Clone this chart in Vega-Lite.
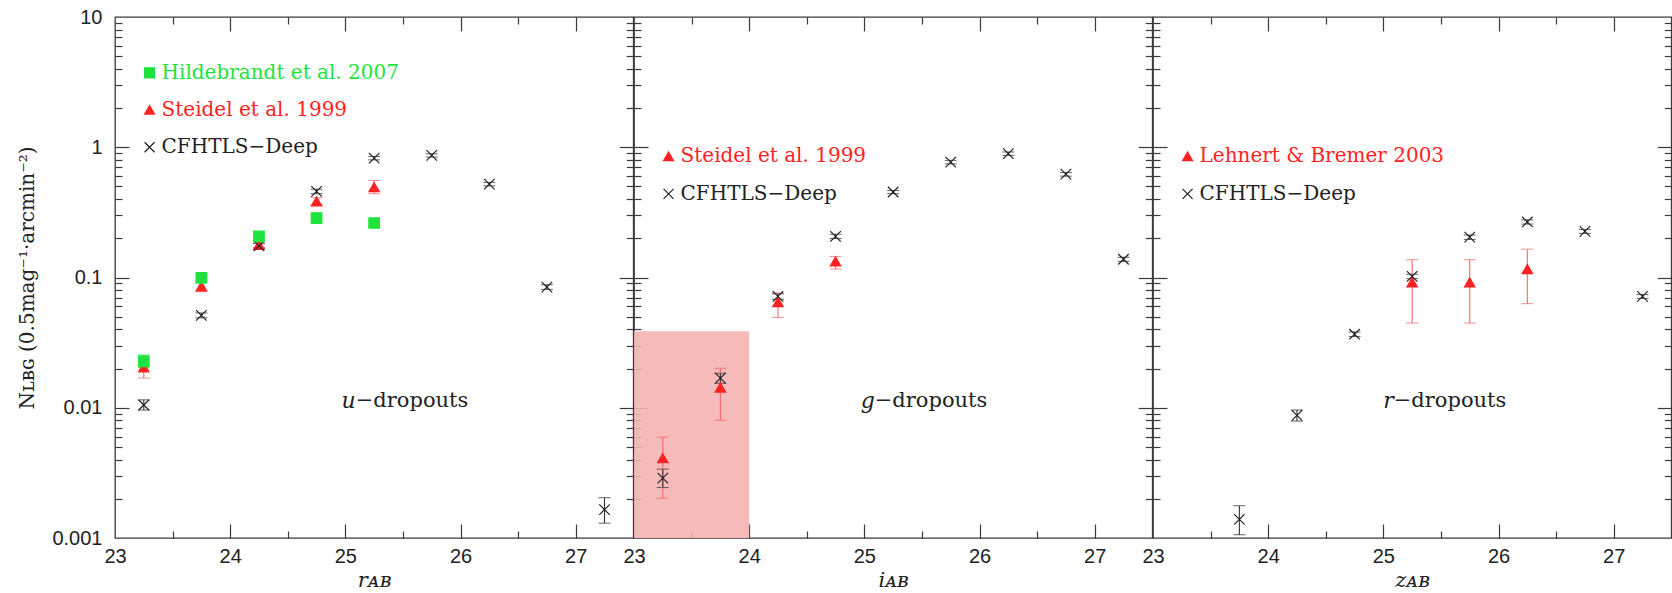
{
  "$schema": "https://vega.github.io/schema/vega-lite/v6.json",
  "autosize": {"type": "pad"},
  "padding": {"left": 17, "top": 6, "right": 0, "bottom": 0},
  "spacing": 0,
  "bounds": "flush",
  "background": "white",
  "datasets": {
    "pts": [
      {"panel": "u", "series": "Steidel", "x": 23.25, "y": 0.0204, "lo": 0.0169, "hi": 0.0242},
      {"panel": "u", "series": "Steidel", "x": 23.75, "y": 0.0855, "lo": 0.078, "hi": 0.093},
      {"panel": "u", "series": "Steidel", "x": 24.25, "y": 0.178, "lo": 0.170, "hi": 0.186},
      {"panel": "u", "series": "Steidel", "x": 24.75, "y": 0.384, "lo": 0.36, "hi": 0.41},
      {"panel": "u", "series": "Steidel", "x": 25.25, "y": 0.494, "lo": 0.44, "hi": 0.556},
      {"panel": "u", "series": "CFHTLS", "x": 23.25, "y": 0.0105, "lo": 0.0096, "hi": 0.0115},
      {"panel": "u", "series": "CFHTLS", "x": 23.75, "y": 0.0512, "lo": 0.049, "hi": 0.0535},
      {"panel": "u", "series": "CFHTLS", "x": 24.25, "y": 0.175, "lo": 0.168, "hi": 0.182},
      {"panel": "u", "series": "CFHTLS", "x": 24.75, "y": 0.458, "lo": 0.44, "hi": 0.476},
      {"panel": "u", "series": "CFHTLS", "x": 25.25, "y": 0.826, "lo": 0.80, "hi": 0.85},
      {"panel": "u", "series": "CFHTLS", "x": 25.75, "y": 0.867, "lo": 0.84, "hi": 0.89},
      {"panel": "u", "series": "CFHTLS", "x": 26.25, "y": 0.521, "lo": 0.505, "hi": 0.537},
      {"panel": "u", "series": "CFHTLS", "x": 26.75, "y": 0.0844, "lo": 0.081, "hi": 0.088},
      {"panel": "u", "series": "CFHTLS", "x": 27.25, "y": 0.00165, "lo": 0.0013, "hi": 0.00204},
      {"panel": "u", "series": "Hildebrandt", "x": 23.25, "y": 0.0227, "lo": 0.0203, "hi": 0.0254},
      {"panel": "u", "series": "Hildebrandt", "x": 23.75, "y": 0.0995, "lo": 0.094, "hi": 0.105},
      {"panel": "u", "series": "Hildebrandt", "x": 24.25, "y": 0.207, "lo": 0.197, "hi": 0.217},
      {"panel": "u", "series": "Hildebrandt", "x": 24.75, "y": 0.286, "lo": 0.275, "hi": 0.297},
      {"panel": "u", "series": "Hildebrandt", "x": 25.25, "y": 0.262, "lo": 0.252, "hi": 0.272},
      {"panel": "g", "series": "Steidel", "x": 23.25, "y": 0.0041, "lo": 0.00202, "hi": 0.00594},
      {"panel": "g", "series": "Steidel", "x": 23.75, "y": 0.0143, "lo": 0.0080, "hi": 0.0201},
      {"panel": "g", "series": "Steidel", "x": 24.25, "y": 0.0648, "lo": 0.0494, "hi": 0.076},
      {"panel": "g", "series": "Steidel", "x": 24.75, "y": 0.133, "lo": 0.116, "hi": 0.145},
      {"panel": "g", "series": "CFHTLS", "x": 23.25, "y": 0.00288, "lo": 0.00244, "hi": 0.00338},
      {"panel": "g", "series": "CFHTLS", "x": 23.75, "y": 0.0169, "lo": 0.0154, "hi": 0.0184},
      {"panel": "g", "series": "CFHTLS", "x": 24.25, "y": 0.0716, "lo": 0.068, "hi": 0.075},
      {"panel": "g", "series": "CFHTLS", "x": 24.75, "y": 0.207, "lo": 0.199, "hi": 0.215},
      {"panel": "g", "series": "CFHTLS", "x": 25.25, "y": 0.453, "lo": 0.44, "hi": 0.466},
      {"panel": "g", "series": "CFHTLS", "x": 25.75, "y": 0.769, "lo": 0.745, "hi": 0.793},
      {"panel": "g", "series": "CFHTLS", "x": 26.25, "y": 0.893, "lo": 0.865, "hi": 0.92},
      {"panel": "g", "series": "CFHTLS", "x": 26.75, "y": 0.622, "lo": 0.60, "hi": 0.64},
      {"panel": "g", "series": "CFHTLS", "x": 27.25, "y": 0.138, "lo": 0.133, "hi": 0.143},
      {"panel": "r", "series": "Lehnert", "x": 25.25, "y": 0.0917, "lo": 0.0447, "hi": 0.137},
      {"panel": "r", "series": "Lehnert", "x": 25.75, "y": 0.0917, "lo": 0.0447, "hi": 0.137},
      {"panel": "r", "series": "Lehnert", "x": 26.25, "y": 0.116, "lo": 0.063, "hi": 0.165},
      {"panel": "r", "series": "CFHTLS", "x": 23.75, "y": 0.00139, "lo": 0.00106, "hi": 0.00177},
      {"panel": "r", "series": "CFHTLS", "x": 24.25, "y": 0.00873, "lo": 0.0079, "hi": 0.0096},
      {"panel": "r", "series": "CFHTLS", "x": 24.75, "y": 0.0367, "lo": 0.0352, "hi": 0.0382},
      {"panel": "r", "series": "CFHTLS", "x": 25.25, "y": 0.102, "lo": 0.098, "hi": 0.106},
      {"panel": "r", "series": "CFHTLS", "x": 25.75, "y": 0.204, "lo": 0.196, "hi": 0.212},
      {"panel": "r", "series": "CFHTLS", "x": 26.25, "y": 0.267, "lo": 0.257, "hi": 0.277},
      {"panel": "r", "series": "CFHTLS", "x": 26.75, "y": 0.226, "lo": 0.218, "hi": 0.234},
      {"panel": "r", "series": "CFHTLS", "x": 27.25, "y": 0.0716, "lo": 0.069, "hi": 0.074}
    ],
    "leg": [
      {"panel": "u", "series": "Hildebrandt", "label": "Hildebrandt et al. 2007", "x": 23.3, "y": 3.72},
      {"panel": "u", "series": "Steidel", "label": "Steidel et al. 1999", "x": 23.3, "y": 1.94},
      {"panel": "u", "series": "CFHTLS", "label": "CFHTLS−Deep", "x": 23.3, "y": 1.0},
      {"panel": "g", "series": "Steidel", "label": "Steidel et al. 1999", "x": 23.3, "y": 0.851},
      {"panel": "g", "series": "CFHTLS", "label": "CFHTLS−Deep", "x": 23.3, "y": 0.438},
      {"panel": "r", "series": "Lehnert", "label": "Lehnert & Bremer 2003", "x": 23.3, "y": 0.851},
      {"panel": "r", "series": "CFHTLS", "label": "CFHTLS−Deep", "x": 23.3, "y": 0.438}
    ],
    "ann": [
      {"panel": "u", "letter": "u", "rest": "−dropouts", "x": 25.09, "y": 0.0112},
      {"panel": "g", "letter": "g", "rest": "−dropouts", "x": 25.09, "y": 0.0112},
      {"panel": "r", "letter": "r", "rest": "−dropouts", "x": 25.09, "y": 0.0112}
    ],
    "shade": [
      {"panel": "g", "x": 23.0, "x2": 24.0, "y": 0.001, "y2": 0.0386}
    ]
  },
  "config": {
    "view": {"stroke": "#3a3a3a", "strokeWidth": 1.3},
    "axis": {
      "grid": false, "domain": false,
      "labelFont": "Liberation Sans", "labelFontSize": 20, "labelColor": "#222",
      "labelFlush": false, "labelOverlap": false, "labelBound": false,
      "tickColor": "#3a3a3a", "tickWidth": 1.2,
      "titleFont": "DejaVu Serif", "titleFontWeight": "normal", "titleColor": "#222",
      "zindex": 1
    }
  },
  "hconcat": [
    {
      "width": 518.3, "height": 521,
      "resolve": {"axis": {"x": "independent", "y": "independent"}},
      "layer": [
        {"data": {"name": "pts"}, "mark": {"type": "point", "opacity": 0},
         "encoding": {
           "x": {"field": "x", "type": "quantitative", "scale": {"domain": [23, 27.5], "nice": false, "zero": false},
                 "axis": {"orient": "bottom", "values": [23, 24, 25, 26, 27], "ticks": false, "labelPadding": 8, "title": "rᴀʙ", "titleFontStyle": "italic", "titleFontSize": 21, "titlePadding": 3}},
           "y": {"field": "y", "type": "quantitative", "scale": {"type": "log", "domain": [0.001, 10], "nice": false},
                 "axis": {"orient": "left", "values": [0.001, 0.01, 0.1, 1, 10], "format": "~g", "ticks": false, "labelPadding": 13, "title": "Nʟʙɢ (0.5mag⁻¹·arcmin⁻²)", "titleFontSize": 20, "titlePadding": 14}}
         }},
        {"data": {"name": "pts"}, "mark": {"type": "point", "opacity": 0},
         "encoding": {
           "x": {"field": "x", "type": "quantitative", "scale": {"domain": [23, 27.5], "nice": false, "zero": false},
                 "axis": {"orient": "bottom", "offset": -14, "tickSize": 14, "values": [24, 25, 26, 27], "labels": false, "title": null}},
           "y": {"field": "y", "type": "quantitative", "scale": {"type": "log", "domain": [0.001, 10], "nice": false},
                 "axis": {"orient": "left", "offset": -14, "tickSize": 14, "values": [0.01, 0.1, 1], "labels": false, "title": null}}
         }},
        {"data": {"name": "pts"}, "mark": {"type": "point", "opacity": 0},
         "encoding": {
           "x": {"field": "x", "type": "quantitative", "scale": {"domain": [23, 27.5], "nice": false, "zero": false},
                 "axis": {"orient": "bottom", "offset": -7, "tickSize": 7, "values": [23.5, 24.5, 25.5, 26.5], "labels": false, "title": null}},
           "y": {"field": "y", "type": "quantitative", "scale": {"type": "log", "domain": [0.001, 10], "nice": false},
                 "axis": {"orient": "left", "offset": -7, "tickSize": 7, "values": [0.002, 0.003, 0.004, 0.005, 0.006, 0.007, 0.008, 0.009, 0.02, 0.03, 0.04, 0.05, 0.06, 0.07, 0.08, 0.09, 0.2, 0.3, 0.4, 0.5, 0.6, 0.7, 0.8, 0.9, 2, 3, 4, 5, 6, 7, 8, 9], "labels": false, "title": null}}
         }},
        {"data": {"name": "pts"}, "mark": {"type": "point", "opacity": 0},
         "encoding": {
           "x": {"field": "x", "type": "quantitative", "scale": {"domain": [23, 27.5], "nice": false, "zero": false},
                 "axis": {"orient": "top", "offset": -14, "tickSize": 14, "values": [24, 25, 26, 27], "labels": false, "title": null}},
           "y": {"field": "y", "type": "quantitative", "scale": {"type": "log", "domain": [0.001, 10], "nice": false},
                 "axis": {"orient": "right", "offset": -14, "tickSize": 14, "values": [0.01, 0.1, 1], "labels": false, "title": null}}
         }},
        {"data": {"name": "pts"}, "mark": {"type": "point", "opacity": 0},
         "encoding": {
           "x": {"field": "x", "type": "quantitative", "scale": {"domain": [23, 27.5], "nice": false, "zero": false},
                 "axis": {"orient": "top", "offset": -7, "tickSize": 7, "values": [23.5, 24.5, 25.5, 26.5], "labels": false, "title": null}},
           "y": {"field": "y", "type": "quantitative", "scale": {"type": "log", "domain": [0.001, 10], "nice": false},
                 "axis": {"orient": "right", "offset": -7, "tickSize": 7, "values": [0.002, 0.003, 0.004, 0.005, 0.006, 0.007, 0.008, 0.009, 0.02, 0.03, 0.04, 0.05, 0.06, 0.07, 0.08, 0.09, 0.2, 0.3, 0.4, 0.5, 0.6, 0.7, 0.8, 0.9, 2, 3, 4, 5, 6, 7, 8, 9], "labels": false, "title": null}}
         }},
        {"data": {"name": "pts"}, "transform": [{"filter": "datum.panel === 'u'"}],
         "mark": {"type": "errorbar", "ticks": {"size": 12, "thickness": 1.1}, "thickness": 1.1},
         "encoding": {
           "x": {"field": "x", "type": "quantitative", "scale": {"domain": [23, 27.5], "nice": false, "zero": false}, "axis": null},
           "y": {"field": "lo", "type": "quantitative", "scale": {"type": "log", "domain": [0.001, 10], "nice": false}, "axis": null},
           "y2": {"field": "hi"},
           "color": {"field": "series", "type": "nominal", "legend": null, "scale": {"domain": ["Hildebrandt", "Steidel", "Lehnert", "CFHTLS"], "range": ["#22dd44", "#f26a6a", "#f26a6a", "#333333"]}}
         }},
        {"data": {"name": "pts"}, "transform": [{"filter": "datum.panel === 'u'"}],
         "mark": {"type": "point", "filled": true, "opacity": 1, "size": 110, "strokeWidth": 1.2},
         "encoding": {
           "x": {"field": "x", "type": "quantitative", "scale": {"domain": [23, 27.5], "nice": false, "zero": false}, "axis": null},
           "y": {"field": "y", "type": "quantitative", "scale": {"type": "log", "domain": [0.001, 10], "nice": false}, "axis": null},
           "fill": {"field": "series", "type": "nominal", "legend": null, "scale": {"domain": ["Hildebrandt", "Steidel", "Lehnert", "CFHTLS"], "range": ["#1ee33c", "#ff2222", "#ff2222", "#222222"]}},
           "stroke": {"field": "series", "type": "nominal", "legend": null, "scale": {"domain": ["Hildebrandt", "Steidel", "Lehnert", "CFHTLS"], "range": ["#1ee33c", "#ff2222", "#ff2222", "#222222"]}},
           "shape": {"field": "series", "type": "nominal", "legend": null, "scale": {"domain": ["Hildebrandt", "Steidel", "Lehnert", "CFHTLS"], "range": ["square", "triangle-up", "triangle-up", "M-1,-1L1,1M-1,1L1,-1"]}}
         }},
        {"data": {"name": "leg"}, "transform": [{"filter": "datum.panel === 'u'"}],
         "mark": {"type": "point", "filled": true, "opacity": 1, "size": 100, "strokeWidth": 1.2},
         "encoding": {
           "x": {"field": "x", "type": "quantitative", "scale": {"domain": [23, 27.5], "nice": false, "zero": false}, "axis": null},
           "y": {"field": "y", "type": "quantitative", "scale": {"type": "log", "domain": [0.001, 10], "nice": false}, "axis": null},
           "fill": {"field": "series", "type": "nominal", "legend": null, "scale": {"domain": ["Hildebrandt", "Steidel", "Lehnert", "CFHTLS"], "range": ["#1ee33c", "#ff2222", "#ff2222", "#222222"]}},
           "stroke": {"field": "series", "type": "nominal", "legend": null, "scale": {"domain": ["Hildebrandt", "Steidel", "Lehnert", "CFHTLS"], "range": ["#1ee33c", "#ff2222", "#ff2222", "#222222"]}},
           "shape": {"field": "series", "type": "nominal", "legend": null, "scale": {"domain": ["Hildebrandt", "Steidel", "Lehnert", "CFHTLS"], "range": ["square", "triangle-up", "triangle-up", "M-1,-1L1,1M-1,1L1,-1"]}}
         }},
        {"data": {"name": "leg"}, "transform": [{"filter": "datum.panel === 'u'"}],
         "mark": {"type": "text", "align": "left", "baseline": "middle", "dx": 12, "font": "DejaVu Serif", "fontSize": 20},
         "encoding": {
           "x": {"field": "x", "type": "quantitative", "scale": {"domain": [23, 27.5], "nice": false, "zero": false}, "axis": null},
           "y": {"field": "y", "type": "quantitative", "scale": {"type": "log", "domain": [0.001, 10], "nice": false}, "axis": null},
           "text": {"field": "label"},
           "fill": {"field": "series", "type": "nominal", "legend": null, "scale": {"domain": ["Hildebrandt", "Steidel", "Lehnert", "CFHTLS"], "range": ["#1ee33c", "#ff2222", "#ff2222", "#222222"]}}
         }},
        {"data": {"name": "ann"}, "transform": [{"filter": "datum.panel === 'u'"}],
         "mark": {"type": "text", "align": "right", "baseline": "middle", "font": "DejaVu Serif", "fontStyle": "italic", "fontSize": 22, "color": "#222"},
         "encoding": {
           "x": {"field": "x", "type": "quantitative", "scale": {"domain": [23, 27.5], "nice": false, "zero": false}, "axis": null},
           "y": {"field": "y", "type": "quantitative", "scale": {"type": "log", "domain": [0.001, 10], "nice": false}, "axis": null},
           "text": {"field": "letter"}
         }},
        {"data": {"name": "ann"}, "transform": [{"filter": "datum.panel === 'u'"}],
         "mark": {"type": "text", "align": "left", "baseline": "middle", "font": "DejaVu Serif", "fontSize": 21, "color": "#222"},
         "encoding": {
           "x": {"field": "x", "type": "quantitative", "scale": {"domain": [23, 27.5], "nice": false, "zero": false}, "axis": null},
           "y": {"field": "y", "type": "quantitative", "scale": {"type": "log", "domain": [0.001, 10], "nice": false}, "axis": null},
           "text": {"field": "rest"}
         }}
      ]
    },
    {
      "width": 518.3, "height": 521,
      "resolve": {"axis": {"x": "independent", "y": "independent"}},
      "layer": [
        {"data": {"name": "shade"},
         "mark": {"type": "rect", "color": "#f6b2b2", "opacity": 0.9},
         "encoding": {
           "x": {"field": "x", "type": "quantitative", "scale": {"domain": [23, 27.5], "nice": false, "zero": false}, "axis": null},
           "x2": {"field": "x2"},
           "y": {"field": "y", "type": "quantitative", "scale": {"type": "log", "domain": [0.001, 10], "nice": false}, "axis": null},
           "y2": {"field": "y2"}
         }},
        {"data": {"name": "pts"}, "mark": {"type": "point", "opacity": 0},
         "encoding": {
           "x": {"field": "x", "type": "quantitative", "scale": {"domain": [23, 27.5], "nice": false, "zero": false},
                 "axis": {"orient": "bottom", "values": [23, 24, 25, 26, 27], "ticks": false, "labelPadding": 8, "title": "iᴀʙ", "titleFontStyle": "italic", "titleFontSize": 21, "titlePadding": 3}},
           "y": {"field": "y", "type": "quantitative", "scale": {"type": "log", "domain": [0.001, 10], "nice": false}, "axis": null}
         }},
        {"data": {"name": "pts"}, "mark": {"type": "point", "opacity": 0},
         "encoding": {
           "x": {"field": "x", "type": "quantitative", "scale": {"domain": [23, 27.5], "nice": false, "zero": false},
                 "axis": {"orient": "bottom", "offset": -14, "tickSize": 14, "values": [24, 25, 26, 27], "labels": false, "title": null}},
           "y": {"field": "y", "type": "quantitative", "scale": {"type": "log", "domain": [0.001, 10], "nice": false},
                 "axis": {"orient": "left", "offset": -14, "tickSize": 14, "values": [0.01, 0.1, 1], "labels": false, "title": null}}
         }},
        {"data": {"name": "pts"}, "mark": {"type": "point", "opacity": 0},
         "encoding": {
           "x": {"field": "x", "type": "quantitative", "scale": {"domain": [23, 27.5], "nice": false, "zero": false},
                 "axis": {"orient": "bottom", "offset": -7, "tickSize": 7, "values": [23.5, 24.5, 25.5, 26.5], "labels": false, "title": null}},
           "y": {"field": "y", "type": "quantitative", "scale": {"type": "log", "domain": [0.001, 10], "nice": false},
                 "axis": {"orient": "left", "offset": -7, "tickSize": 7, "values": [0.002, 0.003, 0.004, 0.005, 0.006, 0.007, 0.008, 0.009, 0.02, 0.03, 0.04, 0.05, 0.06, 0.07, 0.08, 0.09, 0.2, 0.3, 0.4, 0.5, 0.6, 0.7, 0.8, 0.9, 2, 3, 4, 5, 6, 7, 8, 9], "labels": false, "title": null}}
         }},
        {"data": {"name": "pts"}, "mark": {"type": "point", "opacity": 0},
         "encoding": {
           "x": {"field": "x", "type": "quantitative", "scale": {"domain": [23, 27.5], "nice": false, "zero": false},
                 "axis": {"orient": "top", "offset": -14, "tickSize": 14, "values": [24, 25, 26, 27], "labels": false, "title": null}},
           "y": {"field": "y", "type": "quantitative", "scale": {"type": "log", "domain": [0.001, 10], "nice": false},
                 "axis": {"orient": "right", "offset": -14, "tickSize": 14, "values": [0.01, 0.1, 1], "labels": false, "title": null}}
         }},
        {"data": {"name": "pts"}, "mark": {"type": "point", "opacity": 0},
         "encoding": {
           "x": {"field": "x", "type": "quantitative", "scale": {"domain": [23, 27.5], "nice": false, "zero": false},
                 "axis": {"orient": "top", "offset": -7, "tickSize": 7, "values": [23.5, 24.5, 25.5, 26.5], "labels": false, "title": null}},
           "y": {"field": "y", "type": "quantitative", "scale": {"type": "log", "domain": [0.001, 10], "nice": false},
                 "axis": {"orient": "right", "offset": -7, "tickSize": 7, "values": [0.002, 0.003, 0.004, 0.005, 0.006, 0.007, 0.008, 0.009, 0.02, 0.03, 0.04, 0.05, 0.06, 0.07, 0.08, 0.09, 0.2, 0.3, 0.4, 0.5, 0.6, 0.7, 0.8, 0.9, 2, 3, 4, 5, 6, 7, 8, 9], "labels": false, "title": null}}
         }},
        {"data": {"name": "pts"}, "transform": [{"filter": "datum.panel === 'g'"}],
         "mark": {"type": "errorbar", "ticks": {"size": 12, "thickness": 1.1}, "thickness": 1.1},
         "encoding": {
           "x": {"field": "x", "type": "quantitative", "scale": {"domain": [23, 27.5], "nice": false, "zero": false}, "axis": null},
           "y": {"field": "lo", "type": "quantitative", "scale": {"type": "log", "domain": [0.001, 10], "nice": false}, "axis": null},
           "y2": {"field": "hi"},
           "color": {"field": "series", "type": "nominal", "legend": null, "scale": {"domain": ["Hildebrandt", "Steidel", "Lehnert", "CFHTLS"], "range": ["#22dd44", "#f26a6a", "#f26a6a", "#333333"]}}
         }},
        {"data": {"name": "pts"}, "transform": [{"filter": "datum.panel === 'g'"}],
         "mark": {"type": "point", "filled": true, "opacity": 1, "size": 110, "strokeWidth": 1.2},
         "encoding": {
           "x": {"field": "x", "type": "quantitative", "scale": {"domain": [23, 27.5], "nice": false, "zero": false}, "axis": null},
           "y": {"field": "y", "type": "quantitative", "scale": {"type": "log", "domain": [0.001, 10], "nice": false}, "axis": null},
           "fill": {"field": "series", "type": "nominal", "legend": null, "scale": {"domain": ["Hildebrandt", "Steidel", "Lehnert", "CFHTLS"], "range": ["#1ee33c", "#ff2222", "#ff2222", "#222222"]}},
           "stroke": {"field": "series", "type": "nominal", "legend": null, "scale": {"domain": ["Hildebrandt", "Steidel", "Lehnert", "CFHTLS"], "range": ["#1ee33c", "#ff2222", "#ff2222", "#222222"]}},
           "shape": {"field": "series", "type": "nominal", "legend": null, "scale": {"domain": ["Hildebrandt", "Steidel", "Lehnert", "CFHTLS"], "range": ["square", "triangle-up", "triangle-up", "M-1,-1L1,1M-1,1L1,-1"]}}
         }},
        {"data": {"name": "leg"}, "transform": [{"filter": "datum.panel === 'g'"}],
         "mark": {"type": "point", "filled": true, "opacity": 1, "size": 100, "strokeWidth": 1.2},
         "encoding": {
           "x": {"field": "x", "type": "quantitative", "scale": {"domain": [23, 27.5], "nice": false, "zero": false}, "axis": null},
           "y": {"field": "y", "type": "quantitative", "scale": {"type": "log", "domain": [0.001, 10], "nice": false}, "axis": null},
           "fill": {"field": "series", "type": "nominal", "legend": null, "scale": {"domain": ["Hildebrandt", "Steidel", "Lehnert", "CFHTLS"], "range": ["#1ee33c", "#ff2222", "#ff2222", "#222222"]}},
           "stroke": {"field": "series", "type": "nominal", "legend": null, "scale": {"domain": ["Hildebrandt", "Steidel", "Lehnert", "CFHTLS"], "range": ["#1ee33c", "#ff2222", "#ff2222", "#222222"]}},
           "shape": {"field": "series", "type": "nominal", "legend": null, "scale": {"domain": ["Hildebrandt", "Steidel", "Lehnert", "CFHTLS"], "range": ["square", "triangle-up", "triangle-up", "M-1,-1L1,1M-1,1L1,-1"]}}
         }},
        {"data": {"name": "leg"}, "transform": [{"filter": "datum.panel === 'g'"}],
         "mark": {"type": "text", "align": "left", "baseline": "middle", "dx": 12, "font": "DejaVu Serif", "fontSize": 20},
         "encoding": {
           "x": {"field": "x", "type": "quantitative", "scale": {"domain": [23, 27.5], "nice": false, "zero": false}, "axis": null},
           "y": {"field": "y", "type": "quantitative", "scale": {"type": "log", "domain": [0.001, 10], "nice": false}, "axis": null},
           "text": {"field": "label"},
           "fill": {"field": "series", "type": "nominal", "legend": null, "scale": {"domain": ["Hildebrandt", "Steidel", "Lehnert", "CFHTLS"], "range": ["#1ee33c", "#ff2222", "#ff2222", "#222222"]}}
         }},
        {"data": {"name": "ann"}, "transform": [{"filter": "datum.panel === 'g'"}],
         "mark": {"type": "text", "align": "right", "baseline": "middle", "font": "DejaVu Serif", "fontStyle": "italic", "fontSize": 22, "color": "#222"},
         "encoding": {
           "x": {"field": "x", "type": "quantitative", "scale": {"domain": [23, 27.5], "nice": false, "zero": false}, "axis": null},
           "y": {"field": "y", "type": "quantitative", "scale": {"type": "log", "domain": [0.001, 10], "nice": false}, "axis": null},
           "text": {"field": "letter"}
         }},
        {"data": {"name": "ann"}, "transform": [{"filter": "datum.panel === 'g'"}],
         "mark": {"type": "text", "align": "left", "baseline": "middle", "font": "DejaVu Serif", "fontSize": 21, "color": "#222"},
         "encoding": {
           "x": {"field": "x", "type": "quantitative", "scale": {"domain": [23, 27.5], "nice": false, "zero": false}, "axis": null},
           "y": {"field": "y", "type": "quantitative", "scale": {"type": "log", "domain": [0.001, 10], "nice": false}, "axis": null},
           "text": {"field": "rest"}
         }}
      ]
    },
    {
      "width": 518.3, "height": 521,
      "resolve": {"axis": {"x": "independent", "y": "independent"}},
      "layer": [
        {"data": {"name": "pts"}, "mark": {"type": "point", "opacity": 0},
         "encoding": {
           "x": {"field": "x", "type": "quantitative", "scale": {"domain": [23, 27.5], "nice": false, "zero": false},
                 "axis": {"orient": "bottom", "values": [23, 24, 25, 26, 27], "ticks": false, "labelPadding": 8, "title": "zᴀʙ", "titleFontStyle": "italic", "titleFontSize": 21, "titlePadding": 3}},
           "y": {"field": "y", "type": "quantitative", "scale": {"type": "log", "domain": [0.001, 10], "nice": false}, "axis": null}
         }},
        {"data": {"name": "pts"}, "mark": {"type": "point", "opacity": 0},
         "encoding": {
           "x": {"field": "x", "type": "quantitative", "scale": {"domain": [23, 27.5], "nice": false, "zero": false},
                 "axis": {"orient": "bottom", "offset": -14, "tickSize": 14, "values": [24, 25, 26, 27], "labels": false, "title": null}},
           "y": {"field": "y", "type": "quantitative", "scale": {"type": "log", "domain": [0.001, 10], "nice": false},
                 "axis": {"orient": "left", "offset": -14, "tickSize": 14, "values": [0.01, 0.1, 1], "labels": false, "title": null}}
         }},
        {"data": {"name": "pts"}, "mark": {"type": "point", "opacity": 0},
         "encoding": {
           "x": {"field": "x", "type": "quantitative", "scale": {"domain": [23, 27.5], "nice": false, "zero": false},
                 "axis": {"orient": "bottom", "offset": -7, "tickSize": 7, "values": [23.5, 24.5, 25.5, 26.5], "labels": false, "title": null}},
           "y": {"field": "y", "type": "quantitative", "scale": {"type": "log", "domain": [0.001, 10], "nice": false},
                 "axis": {"orient": "left", "offset": -7, "tickSize": 7, "values": [0.002, 0.003, 0.004, 0.005, 0.006, 0.007, 0.008, 0.009, 0.02, 0.03, 0.04, 0.05, 0.06, 0.07, 0.08, 0.09, 0.2, 0.3, 0.4, 0.5, 0.6, 0.7, 0.8, 0.9, 2, 3, 4, 5, 6, 7, 8, 9], "labels": false, "title": null}}
         }},
        {"data": {"name": "pts"}, "mark": {"type": "point", "opacity": 0},
         "encoding": {
           "x": {"field": "x", "type": "quantitative", "scale": {"domain": [23, 27.5], "nice": false, "zero": false},
                 "axis": {"orient": "top", "offset": -14, "tickSize": 14, "values": [24, 25, 26, 27], "labels": false, "title": null}},
           "y": {"field": "y", "type": "quantitative", "scale": {"type": "log", "domain": [0.001, 10], "nice": false},
                 "axis": {"orient": "right", "offset": -14, "tickSize": 14, "values": [0.01, 0.1, 1], "labels": false, "title": null}}
         }},
        {"data": {"name": "pts"}, "mark": {"type": "point", "opacity": 0},
         "encoding": {
           "x": {"field": "x", "type": "quantitative", "scale": {"domain": [23, 27.5], "nice": false, "zero": false},
                 "axis": {"orient": "top", "offset": -7, "tickSize": 7, "values": [23.5, 24.5, 25.5, 26.5], "labels": false, "title": null}},
           "y": {"field": "y", "type": "quantitative", "scale": {"type": "log", "domain": [0.001, 10], "nice": false},
                 "axis": {"orient": "right", "offset": -7, "tickSize": 7, "values": [0.002, 0.003, 0.004, 0.005, 0.006, 0.007, 0.008, 0.009, 0.02, 0.03, 0.04, 0.05, 0.06, 0.07, 0.08, 0.09, 0.2, 0.3, 0.4, 0.5, 0.6, 0.7, 0.8, 0.9, 2, 3, 4, 5, 6, 7, 8, 9], "labels": false, "title": null}}
         }},
        {"data": {"name": "pts"}, "transform": [{"filter": "datum.panel === 'r'"}],
         "mark": {"type": "errorbar", "ticks": {"size": 12, "thickness": 1.1}, "thickness": 1.1},
         "encoding": {
           "x": {"field": "x", "type": "quantitative", "scale": {"domain": [23, 27.5], "nice": false, "zero": false}, "axis": null},
           "y": {"field": "lo", "type": "quantitative", "scale": {"type": "log", "domain": [0.001, 10], "nice": false}, "axis": null},
           "y2": {"field": "hi"},
           "color": {"field": "series", "type": "nominal", "legend": null, "scale": {"domain": ["Hildebrandt", "Steidel", "Lehnert", "CFHTLS"], "range": ["#22dd44", "#f26a6a", "#f26a6a", "#333333"]}}
         }},
        {"data": {"name": "pts"}, "transform": [{"filter": "datum.panel === 'r'"}],
         "mark": {"type": "point", "filled": true, "opacity": 1, "size": 110, "strokeWidth": 1.2},
         "encoding": {
           "x": {"field": "x", "type": "quantitative", "scale": {"domain": [23, 27.5], "nice": false, "zero": false}, "axis": null},
           "y": {"field": "y", "type": "quantitative", "scale": {"type": "log", "domain": [0.001, 10], "nice": false}, "axis": null},
           "fill": {"field": "series", "type": "nominal", "legend": null, "scale": {"domain": ["Hildebrandt", "Steidel", "Lehnert", "CFHTLS"], "range": ["#1ee33c", "#ff2222", "#ff2222", "#222222"]}},
           "stroke": {"field": "series", "type": "nominal", "legend": null, "scale": {"domain": ["Hildebrandt", "Steidel", "Lehnert", "CFHTLS"], "range": ["#1ee33c", "#ff2222", "#ff2222", "#222222"]}},
           "shape": {"field": "series", "type": "nominal", "legend": null, "scale": {"domain": ["Hildebrandt", "Steidel", "Lehnert", "CFHTLS"], "range": ["square", "triangle-up", "triangle-up", "M-1,-1L1,1M-1,1L1,-1"]}}
         }},
        {"data": {"name": "leg"}, "transform": [{"filter": "datum.panel === 'r'"}],
         "mark": {"type": "point", "filled": true, "opacity": 1, "size": 100, "strokeWidth": 1.2},
         "encoding": {
           "x": {"field": "x", "type": "quantitative", "scale": {"domain": [23, 27.5], "nice": false, "zero": false}, "axis": null},
           "y": {"field": "y", "type": "quantitative", "scale": {"type": "log", "domain": [0.001, 10], "nice": false}, "axis": null},
           "fill": {"field": "series", "type": "nominal", "legend": null, "scale": {"domain": ["Hildebrandt", "Steidel", "Lehnert", "CFHTLS"], "range": ["#1ee33c", "#ff2222", "#ff2222", "#222222"]}},
           "stroke": {"field": "series", "type": "nominal", "legend": null, "scale": {"domain": ["Hildebrandt", "Steidel", "Lehnert", "CFHTLS"], "range": ["#1ee33c", "#ff2222", "#ff2222", "#222222"]}},
           "shape": {"field": "series", "type": "nominal", "legend": null, "scale": {"domain": ["Hildebrandt", "Steidel", "Lehnert", "CFHTLS"], "range": ["square", "triangle-up", "triangle-up", "M-1,-1L1,1M-1,1L1,-1"]}}
         }},
        {"data": {"name": "leg"}, "transform": [{"filter": "datum.panel === 'r'"}],
         "mark": {"type": "text", "align": "left", "baseline": "middle", "dx": 12, "font": "DejaVu Serif", "fontSize": 20},
         "encoding": {
           "x": {"field": "x", "type": "quantitative", "scale": {"domain": [23, 27.5], "nice": false, "zero": false}, "axis": null},
           "y": {"field": "y", "type": "quantitative", "scale": {"type": "log", "domain": [0.001, 10], "nice": false}, "axis": null},
           "text": {"field": "label"},
           "fill": {"field": "series", "type": "nominal", "legend": null, "scale": {"domain": ["Hildebrandt", "Steidel", "Lehnert", "CFHTLS"], "range": ["#1ee33c", "#ff2222", "#ff2222", "#222222"]}}
         }},
        {"data": {"name": "ann"}, "transform": [{"filter": "datum.panel === 'r'"}],
         "mark": {"type": "text", "align": "right", "baseline": "middle", "font": "DejaVu Serif", "fontStyle": "italic", "fontSize": 22, "color": "#222"},
         "encoding": {
           "x": {"field": "x", "type": "quantitative", "scale": {"domain": [23, 27.5], "nice": false, "zero": false}, "axis": null},
           "y": {"field": "y", "type": "quantitative", "scale": {"type": "log", "domain": [0.001, 10], "nice": false}, "axis": null},
           "text": {"field": "letter"}
         }},
        {"data": {"name": "ann"}, "transform": [{"filter": "datum.panel === 'r'"}],
         "mark": {"type": "text", "align": "left", "baseline": "middle", "font": "DejaVu Serif", "fontSize": 21, "color": "#222"},
         "encoding": {
           "x": {"field": "x", "type": "quantitative", "scale": {"domain": [23, 27.5], "nice": false, "zero": false}, "axis": null},
           "y": {"field": "y", "type": "quantitative", "scale": {"type": "log", "domain": [0.001, 10], "nice": false}, "axis": null},
           "text": {"field": "rest"}
         }}
      ]
    }
  ]
}
